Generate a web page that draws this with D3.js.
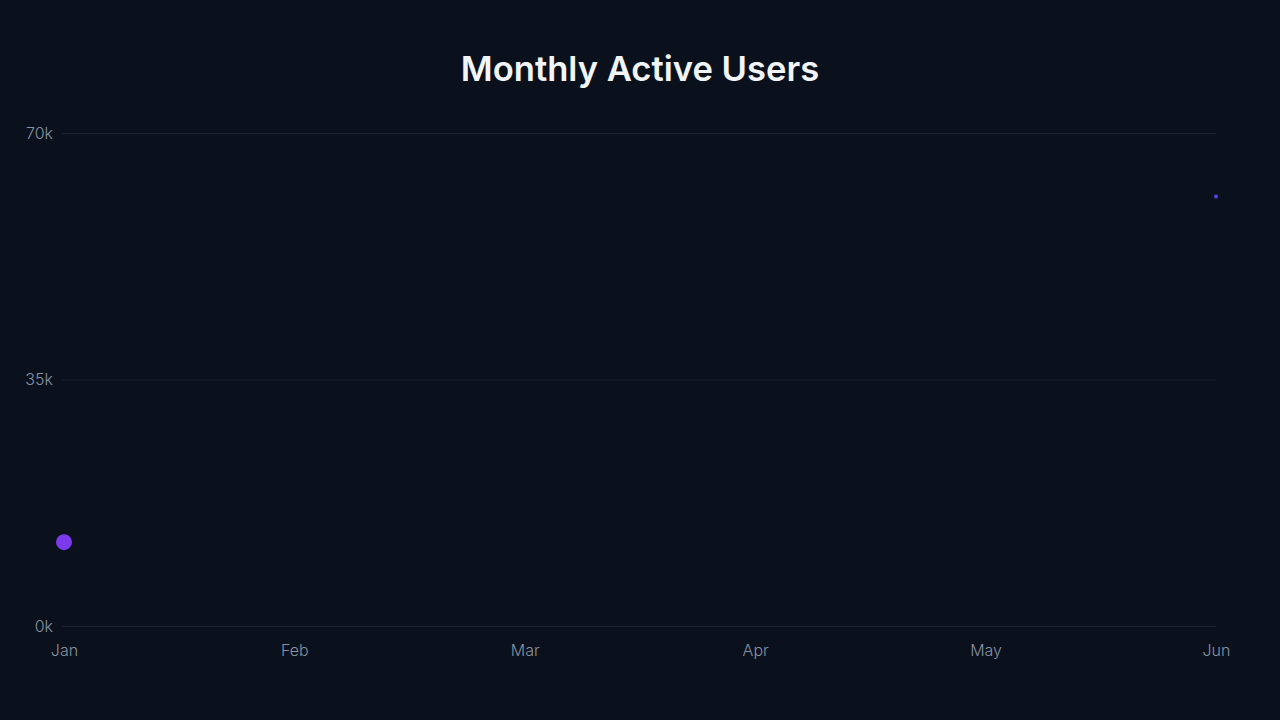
<!DOCTYPE html>
<html>
<head>
<meta charset="utf-8">
<script src="https://cdn.jsdelivr.net/npm/d3@7"></script>
<style>
  html, body { margin: 0; padding: 0; background: #0b111c; }
  svg { display: block; }
</style>
</head>
<body>
<svg id="chart" width="1280" height="720"></svg>
<script>
var BG = "#0b111c";
var GRID_COLOR = "#1b2331";
var TICK_COLOR = "#8791a1";
var TITLE_COLOR = "#f1f5f9";

// Data
var months = ["Jan", "Feb", "Mar", "Apr", "May", "Jun"];
var yTicks = [0, 35000, 70000];
var pointMonths = ["Jan", "Jun"];
var pointValues = [11900, 61000];
var pointRadius = [8, 2];
var pointColors = ["#7c3aed", "#5b3ff0"];

var svg = d3.select("#chart");
var width = 1280, height = 720;
var margin = { top: 133, right: 64, bottom: 94, left: 64 };

svg.append("rect")
  .attr("width", width)
  .attr("height", height)
  .attr("fill", BG);

var x = d3.scalePoint()
  .domain(months)
  .range([margin.left, width - margin.right]);

var y = d3.scaleLinear()
  .domain([0, 70000])
  .range([height - margin.bottom, margin.top]);

// title
svg.append("text")
  .attr("x", width / 2)
  .attr("y", 81)
  .attr("text-anchor", "middle")
  .attr("fill", TITLE_COLOR)
  .style("font-family", "Inter, sans-serif")
  .style("font-size", "34.6px")
  .style("font-weight", "600")
  .text("Monthly Active Users");

// y axis with gridlines
var yAxis = d3.axisLeft(y)
  .tickValues(yTicks)
  .tickSize(-(width - margin.right - margin.left + 2))
  .tickPadding(9)
  .tickFormat(function(d) { return (d / 1000) + "k"; });

var gy = svg.append("g")
  .attr("transform", "translate(" + (margin.left - 2) + ",0)")
  .call(yAxis);
gy.select(".domain").remove();
gy.selectAll(".tick line").attr("stroke", GRID_COLOR).attr("stroke-width", 1);
gy.selectAll(".tick text")
  .attr("fill", TICK_COLOR)
  .style("font-family", "Inter, sans-serif")
  .style("font-size", "16px")
  .style("font-weight", "300");

// x axis
var xAxis = d3.axisBottom(x).tickSize(0).tickPadding(19);
var gx = svg.append("g")
  .attr("transform", "translate(0," + (height - margin.bottom) + ")")
  .call(xAxis);
gx.select(".domain").remove();
gx.selectAll(".tick text")
  .attr("fill", TICK_COLOR)
  .style("font-family", "Inter, sans-serif")
  .style("font-size", "16px")
  .style("font-weight", "300");

// points
svg.append("g")
  .selectAll("circle")
  .data(pointValues)
  .join("circle")
  .attr("cx", function(d, i) { return x(pointMonths[i]); })
  .attr("cy", function(d) { return y(d); })
  .attr("r", function(d, i) { return pointRadius[i]; })
  .attr("fill", function(d, i) { return pointColors[i]; });
</script>
</body>
</html>
